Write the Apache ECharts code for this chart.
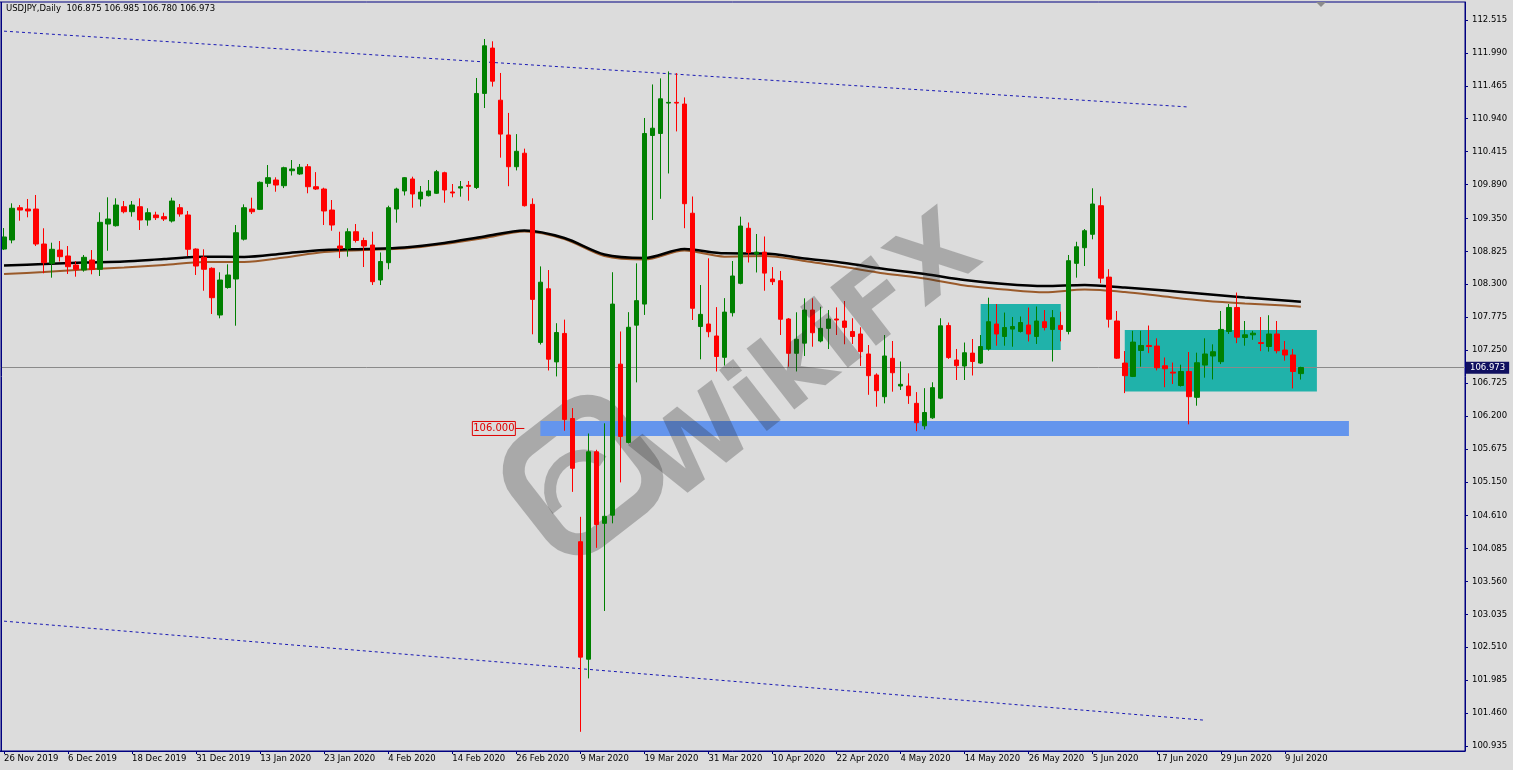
<!DOCTYPE html>
<html><head><meta charset="utf-8">
<script src="https://cdn.jsdelivr.net/npm/echarts@6/dist/echarts.min.js"></script>
<style>html,body{margin:0;padding:0;background:#dcdcdc;overflow:hidden}#c{width:1513px;height:770px}</style>
</head><body><div id="c"></div>
<script>
const dates = [
'26 Nov 2019','27 Nov 2019','28 Nov 2019','29 Nov 2019',
'2 Dec 2019','3 Dec 2019','4 Dec 2019','5 Dec 2019','6 Dec 2019','9 Dec 2019','10 Dec 2019','11 Dec 2019','12 Dec 2019','13 Dec 2019','16 Dec 2019','17 Dec 2019','18 Dec 2019','19 Dec 2019','20 Dec 2019','23 Dec 2019','24 Dec 2019','26 Dec 2019','27 Dec 2019','30 Dec 2019','31 Dec 2019',
'2 Jan 2020','3 Jan 2020','6 Jan 2020','7 Jan 2020','8 Jan 2020','9 Jan 2020','10 Jan 2020','13 Jan 2020','14 Jan 2020','15 Jan 2020','16 Jan 2020','17 Jan 2020','20 Jan 2020','21 Jan 2020','22 Jan 2020','23 Jan 2020','24 Jan 2020','27 Jan 2020','28 Jan 2020','29 Jan 2020','30 Jan 2020','31 Jan 2020',
'3 Feb 2020','4 Feb 2020','5 Feb 2020','6 Feb 2020','7 Feb 2020','10 Feb 2020','11 Feb 2020','12 Feb 2020','13 Feb 2020','14 Feb 2020','17 Feb 2020','18 Feb 2020','19 Feb 2020','20 Feb 2020','21 Feb 2020','24 Feb 2020','25 Feb 2020','26 Feb 2020','27 Feb 2020','28 Feb 2020',
'2 Mar 2020','3 Mar 2020','4 Mar 2020','5 Mar 2020','6 Mar 2020','9 Mar 2020','10 Mar 2020','11 Mar 2020','12 Mar 2020','13 Mar 2020','16 Mar 2020','17 Mar 2020','18 Mar 2020','19 Mar 2020','20 Mar 2020','23 Mar 2020','24 Mar 2020','25 Mar 2020','26 Mar 2020','27 Mar 2020','30 Mar 2020','31 Mar 2020',
'1 Apr 2020','2 Apr 2020','3 Apr 2020','6 Apr 2020','7 Apr 2020','8 Apr 2020','9 Apr 2020','10 Apr 2020','13 Apr 2020','14 Apr 2020','15 Apr 2020','16 Apr 2020','17 Apr 2020','20 Apr 2020','21 Apr 2020','22 Apr 2020','23 Apr 2020','24 Apr 2020','27 Apr 2020','28 Apr 2020','29 Apr 2020','30 Apr 2020',
'1 May 2020','4 May 2020','5 May 2020','6 May 2020','7 May 2020','8 May 2020','11 May 2020','12 May 2020','13 May 2020','14 May 2020','15 May 2020','18 May 2020','19 May 2020','20 May 2020','21 May 2020','22 May 2020','25 May 2020','26 May 2020','27 May 2020','28 May 2020','29 May 2020',
'1 Jun 2020','2 Jun 2020','3 Jun 2020','4 Jun 2020','5 Jun 2020','8 Jun 2020','9 Jun 2020','10 Jun 2020','11 Jun 2020','12 Jun 2020','15 Jun 2020','16 Jun 2020','17 Jun 2020','18 Jun 2020','19 Jun 2020','22 Jun 2020','23 Jun 2020','24 Jun 2020','25 Jun 2020','26 Jun 2020','29 Jun 2020','30 Jun 2020',
'1 Jul 2020','2 Jul 2020','3 Jul 2020','6 Jul 2020','7 Jul 2020','8 Jul 2020','9 Jul 2020','10 Jul 2020','13 Jul 2020'];

const open = [108.862,109.006,109.521,109.500,109.500,108.942,108.634,108.846,108.751,108.607,108.528,108.687,108.539,109.261,109.234,109.537,109.457,109.537,109.325,109.405,109.378,109.309,109.521,109.405,108.862,
108.730,108.555,107.810,108.248,108.384,109.020,109.500,109.495,109.910,109.963,109.872,110.111,110.059,110.175,109.856,109.819,109.484,108.910,108.873,109.138,108.998,108.926,
108.368,108.644,109.500,109.788,109.979,109.660,109.713,109.751,110.079,109.772,109.834,109.878,109.843,111.344,112.067,111.236,110.681,110.175,110.390,109.575,
107.373,108.228,107.062,107.516,106.159,104.194,102.320,105.628,104.487,104.617,107.026,105.778,107.648,107.984,110.673,110.705,111.190,111.201,111.174,109.433,107.626,107.666,
107.475,107.135,107.846,108.315,109.193,108.781,108.813,108.384,108.357,107.746,107.199,107.361,107.889,107.395,107.597,107.746,107.714,107.547,107.507,107.188,106.853,106.507,
107.119,106.677,106.677,106.401,106.042,106.170,106.484,107.641,107.092,106.996,107.202,107.043,107.268,107.666,107.467,107.585,107.547,107.650,107.467,107.703,107.580,
107.644,107.548,108.634,108.883,109.097,109.553,108.414,107.714,107.043,106.830,107.244,107.324,107.315,107.000,106.899,106.685,106.909,106.497,107.011,107.156,107.065,107.547,
107.930,107.451,107.494,107.369,107.307,107.507,107.251,107.172,106.875];

const close = [109.054,109.512,109.484,109.469,108.942,108.644,108.858,108.740,108.580,108.539,108.730,108.539,109.288,109.341,109.564,109.457,109.564,109.325,109.441,109.362,109.341,109.628,109.421,108.858,108.591,
108.539,108.086,108.368,108.448,109.122,109.521,109.457,109.926,110.000,109.883,110.159,110.138,110.166,109.856,109.819,109.469,109.245,108.873,109.138,108.998,108.910,108.341,
108.663,109.521,109.819,110.000,109.740,109.770,109.788,110.095,109.804,109.756,109.856,109.862,111.343,112.103,111.539,110.695,110.175,110.421,109.553,108.059,
108.333,107.105,107.531,106.145,105.365,102.353,105.628,104.468,104.599,107.984,105.874,107.614,108.039,110.705,110.789,111.258,111.201,111.190,109.585,107.917,107.820,107.543,
107.148,107.856,108.432,109.229,108.807,108.813,108.478,108.341,107.742,107.199,107.422,107.889,107.527,107.597,107.746,107.730,107.613,107.467,107.226,106.842,106.603,107.156,
106.889,106.704,106.523,106.092,106.255,106.651,107.637,107.131,107.001,107.208,107.068,107.307,107.703,107.507,107.610,107.626,107.690,107.507,107.714,107.610,107.767,
107.580,108.676,108.898,109.154,109.580,108.398,107.742,107.122,106.842,107.378,107.324,107.307,106.968,106.953,106.883,106.909,106.507,107.049,107.188,107.224,107.580,107.930,
107.457,107.494,107.520,107.357,107.507,107.240,107.172,106.909,106.973];

const high = [109.197,109.591,109.564,109.660,109.724,109.193,108.963,108.990,108.910,108.671,108.767,108.846,109.448,109.687,109.671,109.628,109.628,109.671,109.512,109.457,109.441,109.681,109.580,109.469,108.873,
108.858,108.570,108.491,108.618,109.245,109.575,109.681,109.940,110.202,110.006,110.175,110.282,110.218,110.218,110.089,109.840,109.644,109.138,109.193,109.261,109.043,109.138,
108.807,109.553,109.840,110.010,110.016,109.867,109.963,110.123,110.095,109.899,109.947,109.947,111.590,112.212,112.175,111.670,111.033,110.695,110.463,109.670,
108.585,108.527,107.679,107.736,106.325,104.591,105.920,105.660,106.082,108.492,107.547,107.855,108.634,110.952,111.487,111.584,111.695,111.668,111.280,109.700,108.288,108.714,
107.936,108.079,108.671,109.378,109.285,109.102,109.062,108.574,108.512,107.760,107.853,108.076,108.076,107.941,107.889,107.931,108.033,107.758,107.614,107.331,106.880,107.491,
107.395,107.068,106.880,106.580,106.643,106.737,107.758,107.690,107.268,107.371,107.427,107.491,108.086,107.985,107.849,107.777,107.786,107.929,107.945,107.889,107.889,
107.862,108.767,108.978,109.181,109.831,109.700,108.541,107.874,107.235,107.558,107.558,107.642,107.438,107.132,107.052,107.017,107.220,107.209,107.438,107.342,107.874,107.985,
108.168,107.714,107.558,107.777,107.806,107.714,107.395,107.268,106.985];

const low = [108.846,108.953,109.314,109.368,108.910,108.475,108.405,108.663,108.464,108.421,108.501,108.459,108.432,108.835,109.220,109.431,109.378,109.166,109.234,109.325,109.309,109.285,109.378,108.751,108.448,
108.197,107.826,107.757,108.230,107.639,108.998,109.421,109.484,109.850,109.776,109.834,110.035,110.045,109.751,109.804,109.245,109.154,108.717,108.740,108.966,108.575,108.288,
108.288,108.539,109.282,109.716,109.521,109.540,109.700,109.740,109.601,109.687,109.697,109.633,109.819,111.111,111.453,110.319,109.864,110.116,109.540,107.502,
107.339,106.925,106.830,105.964,104.989,101.162,102.014,104.096,103.089,104.487,105.140,105.760,106.735,107.811,109.325,109.663,110.067,110.738,109.194,107.730,107.103,107.455,
106.909,107.004,107.786,108.300,108.647,108.488,108.197,108.288,107.491,106.986,106.909,107.156,107.304,107.374,107.267,107.491,107.343,107.348,106.997,106.537,106.347,106.401,
106.587,106.614,106.392,105.957,105.984,106.154,106.468,107.110,106.773,106.773,106.845,107.030,107.241,107.320,107.320,107.304,107.531,107.387,107.348,107.563,107.068,
107.390,107.501,108.405,108.591,109.017,108.318,107.610,107.110,106.564,106.820,106.986,107.202,106.926,106.658,106.709,106.669,106.066,106.363,106.810,106.782,107.027,107.507,
107.361,107.320,107.414,107.234,107.226,107.198,107.081,106.639,106.780];

// moving averages read at sampled bars
const maBars  = [0,5,10,15,20,25,30,35,40,45,50,55,60,65,70,75,80,85,90,95,100,105,110,115,120,125,130,135,140,145,150,155,160,162];
const maBlack = [108.599,108.623,108.647,108.663,108.703,108.740,108.735,108.791,108.846,108.862,108.886,108.958,109.062,109.158,109.038,108.775,108.719,108.862,108.794,108.791,108.711,108.639,108.543,108.464,108.368,108.304,108.272,108.288,108.248,108.200,108.145,108.089,108.041,108.022];
const maBrown = [108.464,108.496,108.536,108.567,108.607,108.655,108.655,108.727,108.815,108.846,108.870,108.942,109.038,109.142,109.022,108.751,108.695,108.838,108.740,108.751,108.671,108.575,108.472,108.392,108.280,108.216,108.172,108.216,108.176,108.104,108.037,107.992,107.960,107.941];

const xTickDates = ['26 Nov 2019','6 Dec 2019','18 Dec 2019','31 Dec 2019','13 Jan 2020','23 Jan 2020','4 Feb 2020','14 Feb 2020','26 Feb 2020','9 Mar 2020','19 Mar 2020','31 Mar 2020','10 Apr 2020','22 Apr 2020','4 May 2020','14 May 2020','26 May 2020','5 Jun 2020','17 Jun 2020','29 Jun 2020','9 Jul 2020'];
const yTicks = [100.935,101.460,101.985,102.510,103.035,103.560,104.085,104.610,105.150,105.675,106.200,106.725,107.250,107.775,108.300,108.825,109.350,109.890,110.415,110.940,111.465,111.990,112.515];

const header = 'USDJPY,Daily  106.875 106.985 106.780 106.973';
const bidPrice = 106.973;
const supportLevel = 106.000;
// channel lines: [bar, price] endpoints
const upperChannel = [[0,112.337],[148,111.127]];
const lowerChannel = [[0,102.927],[150,101.347]];
// zones: [bar1, price1, bar2, price2]
const supportZone = [67,106.119,168,105.880];
const rangeZone1 = [122,107.985,132,107.251];
const rangeZone2 = [140,107.571,164,106.589];

const futurePad = 20;
const cats = dates.concat(Array.from({length: futurePad}, (_, i) => 'f' + i));
const candles = dates.map((d, i) => [open[i], close[i], low[i], high[i]]);
const isTick = (idx, val) => xTickDates.indexOf(val) >= 0;
const FONT = 'DejaVu Sans';

const chart = echarts.init(document.getElementById('c'), null, {renderer: 'canvas'});
const option = {
  backgroundColor: '#dcdcdc',
  animation: false,
  grid: {left: -1, right: 48, top: 2, bottom: 19, show: true, borderColor: '#000080', borderWidth: 1},
  xAxis: {
    type: 'category', data: cats, boundaryGap: true,
    axisLine: {show: true, lineStyle: {color: '#000080', width: 1}},
    axisTick: {show: true, interval: isTick, alignWithLabel: true, length: 3, lineStyle: {color: '#000080'}},
    axisLabel: {show: true, interval: isTick, align: 'left', margin: 3, fontSize: 8.5, fontFamily: FONT, color: '#000'},
    splitLine: {show: false}
  },
  yAxis: {
    type: 'value', position: 'right', min: 100.856, max: 112.802,
    axisLine: {show: true, lineStyle: {color: '#000080', width: 1}},
    axisTick: {show: true, customValues: yTicks, length: 3, lineStyle: {color: '#000080'}},
    axisLabel: {customValues: yTicks, formatter: v => v.toFixed(3), margin: 7, fontSize: 8.5, fontFamily: FONT, color: '#000'},
    splitLine: {show: false}
  },
  series: [
    {
      type: 'candlestick', name: 'USDJPY', data: candles, barWidth: 5, z: 5,
      itemStyle: {color: '#008000', color0: '#ff0000', borderColor: '#008000', borderColor0: '#ff0000', borderWidth: 1},
      markArea: {
        silent: true,
        data: [
          [{coord: [supportZone[0], supportZone[1]], itemStyle: {color: '#6495ed', opacity: 1}}, {coord: [supportZone[2], supportZone[3]]}],
          [{coord: [rangeZone1[0], rangeZone1[1]], itemStyle: {color: '#20b2aa', opacity: 1}}, {coord: [rangeZone1[2], rangeZone1[3]]}],
          [{coord: [rangeZone2[0], rangeZone2[1]], itemStyle: {color: '#20b2aa', opacity: 1}}, {coord: [rangeZone2[2], rangeZone2[3]]}]
        ]
      },
      markLine: {
        silent: true, symbol: 'none', animation: false,
        lineStyle: {color: '#8a8a8a', width: 1, type: 'solid'},
        label: {position: 'end', distance: 1, formatter: () => bidPrice.toFixed(3), color: '#fff', backgroundColor: '#101060', padding: [2, 4, 1, 4], fontSize: 8.5, fontFamily: FONT},
        data: [{yAxis: bidPrice}]
      }
    },
    {type: 'line', name: 'MA2', data: maBars.map((b, i) => [b, maBrown[i]]), showSymbol: false, smooth: 0.3, lineStyle: {color: '#9a5a2a', width: 2}, z: 3, silent: true},
    {type: 'line', name: 'MA1', data: maBars.map((b, i) => [b, maBlack[i]]), showSymbol: false, smooth: 0.3, lineStyle: {color: '#000000', width: 2.5}, z: 3, silent: true},
    {type: 'line', name: 'up', data: upperChannel, showSymbol: false, lineStyle: {color: '#1a1ab4', width: 1, type: [3, 3]}, z: 2, silent: true},
    {type: 'line', name: 'dn', data: lowerChannel, showSymbol: false, lineStyle: {color: '#1a1ab4', width: 1, type: [3, 3]}, z: 2, silent: true}
  ]
};
chart.setOption(option);

const sp = chart.convertToPixel({gridIndex: 0}, [65, supportLevel]);
const wmAngle = 38 * Math.PI / 180;
const wm = 'rgba(40,40,40,0.28)';
chart.setOption({
  graphic: [
    {type: 'text', left: 6, top: 4, z: 100, style: {text: header, font: '8.5px "DejaVu Sans"', fill: '#000'}},
    {type: 'polygon', z: 100, shape: {points: [[1316, 2], [1326, 2], [1321, 7]]}, style: {fill: '#8c8c8c'}},
    {type: 'line', z: 100, shape: {x1: 1.5, y1: 2, x2: 1.5, y2: 751}, style: {stroke: '#000080', lineWidth: 1}},
    {type: 'line', z: 100, shape: {x1: sp[0] - 9, y1: sp[1], x2: sp[0], y2: sp[1]}, style: {stroke: '#e00000', lineWidth: 1}},
    {type: 'rect', z: 100, shape: {x: sp[0] - 52, y: sp[1] - 7, width: 43, height: 14}, style: {fill: '#dcdcdc', stroke: '#e00000', lineWidth: 1}},
    {type: 'text', z: 101, x: sp[0] - 30.5, y: sp[1], style: {text: supportLevel.toFixed(3), font: '10px "DejaVu Sans"', fill: '#e00000', align: 'center', verticalAlign: 'middle'}},
    {type: 'group', z: 200, x: 583, y: 475, rotation: wmAngle, children: [
      {type: 'rect', shape: {x: -58, y: -58, width: 116, height: 116, r: 30}, style: {fill: 'none', stroke: wm, lineWidth: 22}},
      {type: 'arc', shape: {cx: -8, cy: 12, r: 34, startAngle: Math.PI, endAngle: Math.PI * 1.9}, style: {fill: 'none', stroke: wm, lineWidth: 12}}
    ]},
    {type: 'text', z: 200, x: 812, y: 362, rotation: wmAngle, style: {text: 'WikiFX', font: 'bold 102px "DejaVu Sans"', fill: wm, align: 'center', verticalAlign: 'middle'}}
  ]
});
</script>
</body></html>
